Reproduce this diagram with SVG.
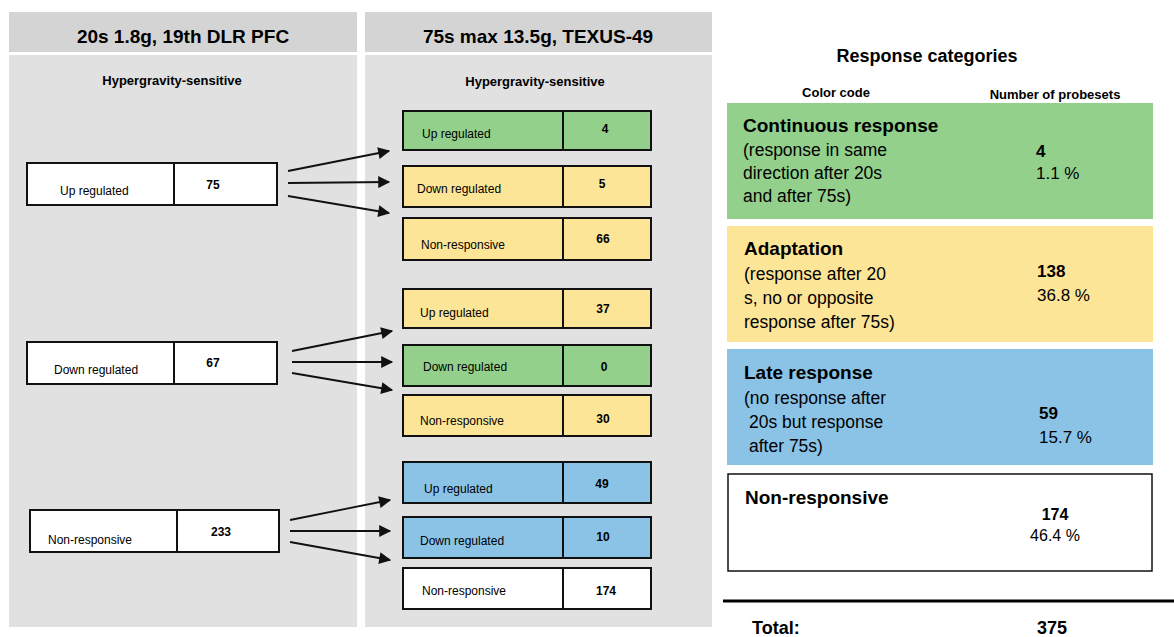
<svg xmlns="http://www.w3.org/2000/svg" width="1174" height="637" viewBox="0 0 1174 637">
<style>
text{font-family:"Liberation Sans",Arial,sans-serif;fill:#000}
.hdr{font-size:19px;font-weight:bold;text-anchor:middle}
.sub{font-size:13px;font-weight:bold;text-anchor:middle}
.lbl{font-size:12px}
.num{font-size:12px;font-weight:bold;text-anchor:middle}
.box{stroke:#111;stroke-width:2}
.g{fill:#93d08b}.y{fill:#fde598}.b{fill:#8bc3e7}.w{fill:#fff}
.cat{font-size:19px;font-weight:bold}
.desc{font-size:17.5px}
.cnum{font-size:17px;font-weight:bold}
.pct{font-size:17px}
.arr{stroke:#111;stroke-width:1.8;fill:none;marker-end:url(#ah)}
</style>
<defs>
<marker id="ah" viewBox="0 0 10 10" refX="9" refY="5" markerWidth="15" markerHeight="12" markerUnits="userSpaceOnUse" orient="auto">
<path d="M0,0 L10,5 L0,10 z" fill="#111"/>
</marker>
</defs>
<rect width="1174" height="637" fill="#fff"/>
<g id="panels">
<rect x="9" y="12" width="348" height="40" fill="#d4d4d4"/>
<rect x="365" y="12" width="347" height="40" fill="#d4d4d4"/>
<rect x="9" y="55" width="348" height="572" fill="#e1e1e1"/>
<rect x="365" y="55" width="347" height="572" fill="#e1e1e1"/>
<text class="hdr" x="183" y="43">20s 1.8g, 19th DLR PFC</text>
<text class="hdr" x="538" y="43">75s max 13.5g, TEXUS-49</text>
<text class="sub" x="172" y="85">Hypergravity-sensitive</text>
<text class="sub" x="535" y="86">Hypergravity-sensitive</text>
</g>
<g id="left-up">
<rect class="box w" x="27" y="163" width="250" height="42"/>
<line x1="174" y1="163" x2="174" y2="205" stroke="#111" stroke-width="2"/>
<text class="lbl" x="60" y="195">Up regulated</text>
<text class="num" x="213" y="189">75</text>
</g>
<g id="left-down">
<rect class="box w" x="27" y="342" width="250" height="42"/>
<line x1="174" y1="342" x2="174" y2="384" stroke="#111" stroke-width="2"/>
<text class="lbl" x="54" y="374">Down regulated</text>
<text class="num" x="213" y="367">67</text>
</g>
<g id="left-non">
<rect class="box w" x="30" y="510" width="249" height="42"/>
<line x1="177" y1="510" x2="177" y2="552" stroke="#111" stroke-width="2"/>
<text class="lbl" x="48" y="544">Non-responsive</text>
<text class="num" x="221" y="536">233</text>
</g>
<g id="r1-up"><rect class="box g" x="403" y="111" width="248" height="39"/><line x1="563" y1="111" x2="563" y2="150" stroke="#111" stroke-width="2"/><text class="lbl" x="422" y="138">Up regulated</text><text class="num" x="605" y="133">4</text></g>
<g id="r1-down"><rect class="box y" x="403" y="166" width="248" height="41"/><line x1="563" y1="166" x2="563" y2="207" stroke="#111" stroke-width="2"/><text class="lbl" x="417" y="193">Down regulated</text><text class="num" x="602" y="188">5</text></g>
<g id="r1-non"><rect class="box y" x="403" y="218" width="248" height="42"/><line x1="563" y1="218" x2="563" y2="260" stroke="#111" stroke-width="2"/><text class="lbl" x="421" y="249">Non-responsive</text><text class="num" x="603" y="243">66</text></g>
<g id="r2-up"><rect class="box y" x="403" y="289" width="248" height="39"/><line x1="563" y1="289" x2="563" y2="328" stroke="#111" stroke-width="2"/><text class="lbl" x="420" y="317">Up regulated</text><text class="num" x="603" y="313">37</text></g>
<g id="r2-down"><rect class="box g" x="403" y="345" width="248" height="41"/><line x1="563" y1="345" x2="563" y2="386" stroke="#111" stroke-width="2"/><text class="lbl" x="423" y="371">Down regulated</text><text class="num" x="604" y="371">0</text></g>
<g id="r2-non"><rect class="box y" x="403" y="395" width="248" height="41"/><line x1="563" y1="395" x2="563" y2="436" stroke="#111" stroke-width="2"/><text class="lbl" x="420" y="425">Non-responsive</text><text class="num" x="603" y="423">30</text></g>
<g id="r3-up"><rect class="box b" x="403" y="462" width="248" height="41"/><line x1="563" y1="462" x2="563" y2="503" stroke="#111" stroke-width="2"/><text class="lbl" x="424" y="493">Up regulated</text><text class="num" x="602" y="488">49</text></g>
<g id="r3-down"><rect class="box b" x="403" y="517" width="248" height="41"/><line x1="563" y1="517" x2="563" y2="558" stroke="#111" stroke-width="2"/><text class="lbl" x="420" y="545">Down regulated</text><text class="num" x="603" y="541">10</text></g>
<g id="r3-non"><rect class="box w" x="403" y="568" width="248" height="41"/><line x1="563" y1="568" x2="563" y2="609" stroke="#111" stroke-width="2"/><text class="lbl" x="422" y="595">Non-responsive</text><text class="num" x="606" y="595">174</text></g>
<g id="connectors">
<line class="arr" x1="288" y1="171" x2="389" y2="151"/>
<line class="arr" x1="288" y1="183" x2="389" y2="182"/>
<line class="arr" x1="288" y1="196" x2="389" y2="213"/>
<line class="arr" x1="292" y1="351" x2="392" y2="331"/>
<line class="arr" x1="292" y1="362" x2="392" y2="362"/>
<line class="arr" x1="292" y1="373" x2="392" y2="390"/>
<line class="arr" x1="290" y1="520" x2="390" y2="500"/>
<line class="arr" x1="290" y1="531" x2="390" y2="531"/>
<line class="arr" x1="290" y1="542" x2="390" y2="560"/>
</g>
<g id="legend-title">
<text x="927" y="62" style="font-size:18px;font-weight:bold;text-anchor:middle">Response categories</text>
<text x="836" y="97" style="font-size:13px;font-weight:bold;text-anchor:middle">Color code</text>
<text x="1055" y="99" style="font-size:13px;font-weight:bold;text-anchor:middle">Number of probesets</text>
</g>
<g id="cat-continuous">
<rect x="727" y="103" width="426" height="116" class="g"/>
<text class="cat" x="743" y="132">Continuous response</text>
<text class="desc" x="743" y="156">(response in same</text>
<text class="desc" x="743" y="179">direction after 20s</text>
<text class="desc" x="743" y="202">and after 75s)</text>
<text class="cnum" x="1036" y="157">4</text>
<text class="pct" x="1036" y="179">1.1 %</text>
</g>
<g id="cat-adaptation">
<rect x="727" y="226" width="426" height="116" class="y"/>
<text class="cat" x="744" y="255">Adaptation</text>
<text class="desc" x="744" y="280">(response after 20</text>
<text class="desc" x="744" y="304">s, no or opposite</text>
<text class="desc" x="744" y="328">response after 75s)</text>
<text class="cnum" x="1037" y="277">138</text>
<text class="pct" x="1037" y="301">36.8 %</text>
</g>
<g id="cat-late">
<rect x="727" y="349" width="426" height="116" class="b"/>
<text class="cat" x="744" y="379">Late response</text>
<text class="desc" x="744" y="404">(no response after</text>
<text class="desc" x="749" y="428">20s but response</text>
<text class="desc" x="749" y="452">after 75s)</text>
<text class="cnum" x="1039" y="419">59</text>
<text class="pct" x="1039" y="443">15.7 %</text>
</g>
<g id="cat-non">
<rect x="728" y="474" width="424" height="97" fill="#fff" stroke="#111" stroke-width="1.5"/>
<text class="cat" x="745" y="504">Non-responsive</text>
<text class="cnum" x="1055" y="520" style="text-anchor:middle;font-size:16px">174</text>
<text class="pct" x="1055" y="541" style="text-anchor:middle;font-size:16px">46.4 %</text>
</g>
<g id="total">
<line x1="723" y1="601" x2="1174" y2="601" stroke="#000" stroke-width="3"/>
<text x="752" y="634" style="font-size:18px;font-weight:bold">Total:</text>
<text x="1052" y="634" style="font-size:18px;font-weight:bold;text-anchor:middle">375</text>
</g>
</svg>
